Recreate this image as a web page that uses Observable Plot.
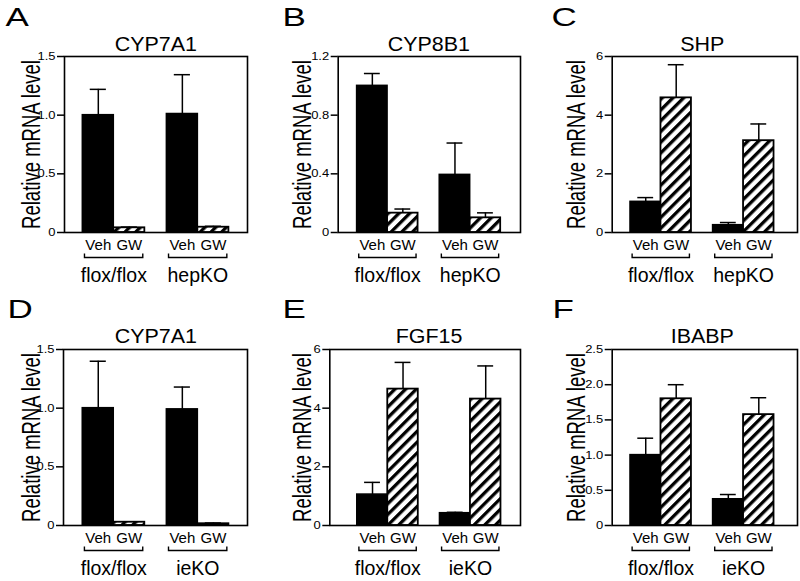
<!DOCTYPE html>
<html>
<head>
<meta charset="utf-8">
<script src="https://cdn.jsdelivr.net/npm/d3@7"></script>
<script src="https://cdn.jsdelivr.net/npm/@observablehq/plot@0.6"></script>
<style>
html, body { margin: 0; padding: 0; background: #fff; }
#root { position: relative; width: 800px; height: 581px; overflow: hidden; background: #fff;
  font-family: "Liberation Sans", Arial, Helvetica, sans-serif; }
.panel { position: absolute; }
#root [aria-label^="y-axis"] line, #root [aria-label="y-axis tick"] path { stroke-width: 1.5; }
</style>
</head>
<body>
<svg width="0" height="0" style="position:absolute">
  <defs>
    <pattern id="hatch" patternUnits="userSpaceOnUse" width="7.6" height="7.6" patternTransform="rotate(45)">
      <rect width="7.6" height="7.6" fill="white"></rect>
      <rect width="3.3" height="7.6" fill="black"></rect>
    </pattern>
  </defs>
</svg>
<div id="root"></div>
<script>
// ---------------- data ----------------
const letters = ["A", "B", "C", "D", "E", "F"];
const titles = ["CYP7A1", "CYP8B1", "SHP", "CYP7A1", "FGF15", "IBABP"];
const groupsHep = ["flox/flox", "hepKO"];
const groupsIe = ["flox/flox", "ieKO"];
const treatments = ["Veh", "GW"];
const yLabel = "Relative mRNA level";

// order: [flox Veh, flox GW, KO Veh, KO GW]
const meanA = [1.00, 0.040, 1.01, 0.045];
const errA  = [0.22, 0.006, 0.335, 0.008];
const meanB = [1.00, 0.132, 0.393, 0.100];
const errB  = [0.084, 0.028, 0.217, 0.034];
const meanC = [1.046, 4.59, 0.25, 3.13];
const errC  = [0.144, 1.13, 0.09, 0.57];
const meanD = [1.00, 0.028, 0.99, 0.015];
const errD  = [0.40, 0.004, 0.19, 0.006];
const meanE = [1.055, 4.65, 0.42, 4.31];
const errE  = [0.415, 0.91, 0.03, 1.13];
const meanF = [1.00, 1.80, 0.373, 1.575];
const errF  = [0.24, 0.20, 0.067, 0.24];

const ticksA = [0, 0.5, 1.0, 1.5];       const tickLabelsA = ["0", "0.5", "1.0", "1.5"];
const ticksB = [0, 0.4, 0.8, 1.2];       const tickLabelsB = ["0", "0.4", "0.8", "1.2"];
const ticksC = [0, 2, 4, 6];             const tickLabelsC = ["0", "2", "4", "6"];
const ticksD = [0, 0.5, 1.0, 1.5];       const tickLabelsD = ["0", "0.5", "1.0", "1.5"];
const ticksE = [0, 2, 4, 6];             const tickLabelsE = ["0", "2", "4", "6"];
const ticksF = [0, 0.5, 1.0, 1.5, 2.0, 2.5]; const tickLabelsF = ["0", "0.5", "1.0", "1.5", "2.0", "2.5"];

const panels = [
  {letter: letters[0], title: titles[0], groups: groupsHep, mean: meanA, err: errA, ticks: ticksA, tickLabels: tickLabelsA},
  {letter: letters[1], title: titles[1], groups: groupsHep, mean: meanB, err: errB, ticks: ticksB, tickLabels: tickLabelsB},
  {letter: letters[2], title: titles[2], groups: groupsHep, mean: meanC, err: errC, ticks: ticksC, tickLabels: tickLabelsC},
  {letter: letters[3], title: titles[3], groups: groupsIe,  mean: meanD, err: errD, ticks: ticksD, tickLabels: tickLabelsD},
  {letter: letters[4], title: titles[4], groups: groupsIe,  mean: meanE, err: errE, ticks: ticksE, tickLabels: tickLabelsE},
  {letter: letters[5], title: titles[5], groups: groupsIe,  mean: meanF, err: errF, ticks: ticksF, tickLabels: tickLabelsF}
];

// ---------------- layout ----------------
const GROUP_STEP = 2.71;   // bar units between group starts
const CAP = 0.26;          // half cap width in bar units
const layout = [
  {left: 0,   top: 0,   width: 266, height: 290, ml: 64,   mr: 19, mt: 56, mb: 58, xd: [-0.59, 5.31], letter: [5, 25],   titleDy: -6, ylabX: 39.5},
  {left: 266, top: 0,   width: 266, height: 290, ml: 71.7, mr: 12, mt: 56, mb: 58, xd: [-0.62, 5.36], letter: [282, 25], titleDy: -6, ylabX: 310},
  {left: 532, top: 0,   width: 268, height: 290, ml: 79.7, mr: 3,  mt: 56, mb: 58, xd: [-0.60, 5.48], letter: [551, 25], titleDy: -6, ylabX: 584},
  {left: 0,   top: 290, width: 266, height: 291, ml: 63,   mr: 19, mt: 59, mb: 56, xd: [-0.62, 5.31], letter: [7, 317],  titleDy: -7, ylabX: 39.5},
  {left: 266, top: 290, width: 266, height: 291, ml: 63.3, mr: 12, mt: 59, mb: 56, xd: [-0.90, 5.35], letter: [282, 317], titleDy: -7, ylabX: 310},
  {left: 532, top: 290, width: 268, height: 291, ml: 79.7, mr: 3,  mt: 59, mb: 56, xd: [-0.60, 5.48], letter: [552, 317], titleDy: -7, ylabX: 584}
];

function rowsFor(p) {
  const rows = [];
  p.groups.forEach((g, gi) => treatments.forEach((t, ti) => {
    const i = gi * 2 + ti;
    const x1 = gi * GROUP_STEP + ti;
    rows.push({group: g, treatment: t, mean: p.mean[i], err: p.err[i], x1, x2: x1 + 1, xc: x1 + 0.5});
  }));
  return rows;
}

function bracketMark(groupRows) {
  return (index, scales) => {
    const g = d3.create("svg:g").attr("aria-label", "brackets");
    const y0 = scales.y(0) + 25.5;
    for (const gr of groupRows) {
      const xa = scales.x(gr.start + 0.07), xb = scales.x(gr.end - 0.05);
      g.append("path")
        .attr("d", `M${xa},${y0 - 4}V${y0}H${xb}V${y0 - 4}`)
        .attr("fill", "none").attr("stroke", "black").attr("stroke-width", 1.4);
    }
    return g.node();
  };
}

const root = document.getElementById("root");

panels.forEach((p, k) => {
  const L = layout[k];
  const rows = rowsFor(p);
  const groupRows = p.groups.map((g) => {
    const r = rows.filter(d => d.group === g);
    const start = d3.min(r, d => d.x1), end = d3.max(r, d => d.x2);
    return {group: g, start, end, xc: (start + end) / 2};
  });
  const midX = (d3.min(rows, d => d.x1) + d3.max(rows, d => d.x2)) / 2;
  const ymax = p.ticks[p.ticks.length - 1];

  const chart = Plot.plot({
    width: L.width, height: L.height,
    marginLeft: L.ml, marginRight: L.mr, marginTop: L.mt, marginBottom: L.mb,
    style: {fontFamily: '"Liberation Sans", Arial, Helvetica, sans-serif', fontSize: "11px", color: "black", background: "white", overflow: "visible"},
    x: {domain: L.xd, axis: null},
    y: {domain: [0, ymax], ticks: p.ticks, tickFormat: v => p.tickLabels[p.ticks.indexOf(v)], tickSize: 7, tickPadding: 2, label: null},
    marks: [
      Plot.ruleX(rows, {x: "xc", y1: "mean", y2: d => d.mean + d.err, stroke: "black", strokeWidth: 1.5}),
      Plot.ruleY(rows, {y: d => d.mean + d.err, x1: d => d.xc - CAP, x2: d => d.xc + CAP, stroke: "black", strokeWidth: 1.5}),
      Plot.rect(rows.filter(d => d.treatment === "Veh"), {x1: "x1", x2: "x2", y1: d => 0, y2: "mean", fill: "black", stroke: "black", strokeWidth: 1.5}),
      Plot.rect(rows.filter(d => d.treatment === "GW"), {x1: "x1", x2: "x2", y1: d => 0, y2: "mean", fill: "url(#hatch)", stroke: "black", strokeWidth: 1.8}),
      Plot.frame({stroke: "black", strokeWidth: 1.6}),
      Plot.text(rows, {x: "xc", y: d => 0, text: "treatment", dy: 17.5, lineAnchor: "bottom", fontSize: 15, fill: "black"}),
      bracketMark(groupRows),
      Plot.text(groupRows, {x: "xc", y: d => 0, text: "group", dy: 49.3, lineAnchor: "bottom", fontSize: 19.5, fill: "black"}),
      Plot.text([p.title], {x: d => midX, frameAnchor: "top", text: d => d, dy: L.titleDy, lineAnchor: "bottom", fontSize: 19.5, fill: "black"}),
      Plot.text([yLabel], {frameAnchor: "left", text: d => d, rotate: -90, dx: L.ylabX - L.left - L.ml, textAnchor: "middle", lineAnchor: "bottom", fontSize: 25, fill: "black"}),
      Plot.text([p.letter], {frameAnchor: "top-left", text: d => d, dx: L.letter[0] - L.left - L.ml, dy: L.letter[1] - L.top - L.mt, textAnchor: "start", lineAnchor: "bottom", fontSize: 25, fill: "black"})
    ]
  });

  const div = document.createElement("div");
  div.className = "panel";
  div.style.left = L.left + "px";
  div.style.top = L.top + "px";
  div.style.width = L.width + "px";
  div.style.height = L.height + "px";
  div.appendChild(chart);
  root.appendChild(div);
});

// horizontal stretch of glyphs (about each text's own anchor) to mimic the reference typography
function stretch(t, k) {
  const x = parseFloat(t.getAttribute("x")) || 0;
  const y = parseFloat(t.getAttribute("y")) || 0;
  const tr = t.getAttribute("transform") || "";
  t.setAttribute("transform", `${tr} translate(${x},${y}) scale(${k},1) translate(${-x},${-y})`);
}
for (const t of root.querySelectorAll("text")) {
  const s = t.textContent;
  if (s === yLabel) {
    const len = t.getComputedTextLength();
    if (len > 0) stretch(t, 169 / len);
    continue;
  }
  let k = 1;
  if (letters.includes(s)) k = 1.4;
  else if (titles.includes(s)) k = 1.1;
  else if (/^[\d.]+$/.test(s)) k = 1.18;
  if (k !== 1) stretch(t, k);
}
</script>
</body>
</html>
